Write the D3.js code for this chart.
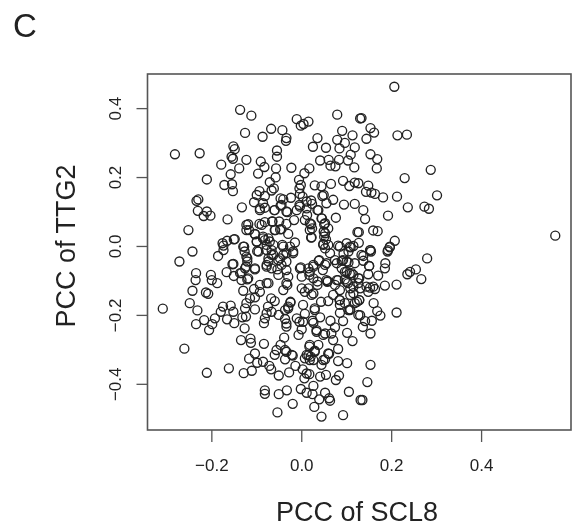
<!DOCTYPE html>
<html>
<head>
<meta charset="utf-8">
<script src="https://d3js.org/d3.v7.min.js"></script>
<style>
html, body { margin: 0; padding: 0; background: #fff; }
svg { display: block; filter: blur(0.45px); }
text { font-family: "Liberation Sans", Arial, sans-serif; fill: #222; }
</style>
</head>
<body>
<div id="chart"></div>
<script>
// tick labels and axis titles
const xTicks = [-0.2, 0, 0.2, 0.4];
const yTicks = [-0.4, -0.2, 0, 0.2, 0.4];
const xTitle = 'PCC of SCL8';
const yTitle = 'PCC of TTG2';
const panel = 'C';

// [PCC of SCL8, PCC of TTG2]
const points = [
[-0.281,0.266],[-0.226,0.269],[-0.136,0.395],[-0.111,0.378],[-0.125,0.328],[-0.086,0.317],[-0.067,0.340],[-0.042,0.336],
[-0.010,0.368],[-0.001,0.349],[0.005,0.354],[0.016,0.361],[0.080,0.381],[0.131,0.370],[0.091,0.334],[0.114,0.321],
[0.080,0.308],[0.097,0.299],[0.119,0.286],[0.085,0.283],[0.036,0.313],[0.026,0.288],[0.055,0.285],[0.110,0.265],
[0.104,0.248],[0.084,0.250],[0.061,0.250],[0.042,0.248],[0.065,0.233],[0.076,0.231],[0.118,0.228],[-0.033,0.313],
[-0.034,0.305],[-0.054,0.277],[-0.054,0.259],[-0.151,0.289],[-0.148,0.281],[-0.155,0.259],[-0.152,0.253],[-0.122,0.250],
[-0.178,0.236],[-0.090,0.245],[-0.082,0.229],[-0.138,0.225],[-0.157,0.208],[-0.096,0.210],[-0.056,0.225],[-0.057,0.199],
[-0.022,0.227],[0.018,0.225],[0.007,0.211],[-0.210,0.193],[-0.171,0.177],[-0.154,0.179],[-0.152,0.159],[-0.070,0.185],
[-0.005,0.192],[-0.001,0.177],[0.030,0.176],[0.045,0.173],[0.066,0.180],[0.093,0.189],[0.107,0.174],[0.119,0.184],
[0.127,0.182],[-0.093,0.159],[-0.099,0.148],[-0.081,0.145],[-0.061,0.167],[-0.066,0.161],[-0.004,0.167],[-0.003,0.151],
[0.003,0.143],[0.050,0.148],[0.047,0.145],[0.071,0.134],[0.056,0.124],[-0.046,0.138],[-0.040,0.135],[-0.023,0.140],
[-0.229,0.135],[-0.233,0.131],[-0.105,0.127],[0.022,0.132],[0.024,0.122],[0.095,0.120],[0.119,0.122],[-0.132,0.112],
[-0.092,0.109],[-0.081,0.111],[-0.046,0.117],[-0.060,0.104],[-0.033,0.100],[-0.010,0.104],[-0.003,0.114],[0.012,0.109],
[0.036,0.104],[-0.230,0.102],[-0.210,0.100],[-0.202,0.088],[-0.217,0.087],[-0.164,0.077],[0.077,0.082],[0.045,0.080],
[-0.016,0.075],[0.008,0.075],[-0.251,0.046],[-0.081,0.069],[-0.065,0.071],[-0.049,0.071],[-0.033,0.064],[-0.118,0.063],
[-0.093,0.064],[0.051,0.063],[0.022,0.063],[0.024,0.051],[-0.122,0.046],[-0.058,0.046],[-0.044,0.049],[-0.103,0.034],
[-0.029,0.035],[0.022,0.024],[0.053,0.037],[0.125,0.040],[-0.148,0.020],[-0.165,0.015],[-0.175,0.008],[-0.173,0.001],
[-0.129,-0.002],[-0.099,0.012],[-0.085,0.022],[-0.070,0.013],[-0.077,0.003],[-0.042,0.003],[-0.014,0.010],[0.049,0.006],
[0.082,0.001],[0.101,0.008],[0.116,0.000],[-0.242,-0.016],
[0.207,0.462],[0.134,0.371],[0.154,0.342],[0.162,0.329],[0.145,0.311],[0.214,0.321],[0.235,0.323],[0.154,0.266],
[0.169,0.252],[0.168,0.225],[0.288,0.221],[0.230,0.197],[0.149,0.175],[0.144,0.157],[0.156,0.155],[0.164,0.151],
[0.182,0.141],[0.213,0.143],[0.302,0.147],[0.138,0.104],[0.237,0.112],[0.274,0.114],[0.284,0.108],[0.142,0.078],
[0.193,0.088],[0.128,0.040],[0.160,0.045],[0.170,0.043],[0.565,0.030],[0.208,0.015],[0.128,0.009],[0.154,-0.012],
[0.197,-0.002],[0.193,-0.012],[0.108,-0.002],
[-0.271,-0.045],[-0.185,-0.029],[-0.173,-0.012],[-0.308,-0.182],[-0.234,-0.079],[-0.235,-0.099],[-0.201,-0.084],[-0.199,-0.099],
[-0.187,-0.108],[-0.242,-0.130],[-0.212,-0.135],[-0.207,-0.139],[-0.248,-0.166],[-0.231,-0.187],[-0.216,-0.215],[-0.234,-0.227],
[-0.205,-0.244],[-0.198,-0.227],[-0.192,-0.210],[-0.179,-0.191],[-0.174,-0.176],[-0.157,-0.173],[-0.165,-0.213],[-0.149,-0.224],
[-0.151,-0.191],[-0.260,-0.298],[-0.210,-0.368],[-0.161,-0.355],[-0.128,-0.369],[-0.110,-0.362],[-0.134,-0.273],[-0.113,-0.269],
[-0.112,-0.281],[-0.083,-0.284],[-0.126,-0.239],[-0.153,-0.053],[-0.166,-0.076],[-0.150,-0.087],[-0.133,-0.079],[-0.120,-0.097],
[-0.103,-0.068],[-0.129,-0.130],[-0.105,-0.125],[-0.077,-0.108],[-0.092,-0.133],[-0.103,-0.149],[-0.114,-0.152],[-0.122,-0.166],
[-0.125,-0.181],[-0.103,-0.184],[-0.123,-0.205],[-0.131,-0.207],[-0.067,-0.152],[-0.059,-0.160],[-0.074,-0.176],[-0.077,-0.195],
[-0.081,-0.210],[-0.083,-0.224],[-0.066,-0.191],[-0.050,-0.200],[-0.029,-0.181],[-0.024,-0.164],[-0.036,-0.212],[-0.033,-0.234],
[-0.010,-0.210],[0.004,-0.171],[0.008,-0.197],[0.030,-0.186],[0.044,-0.162],[0.060,-0.160],[0.004,-0.220],[0.001,-0.242],
[-0.006,-0.258],[0.027,-0.223],[0.042,-0.207],[0.065,-0.217],[0.075,-0.236],[0.034,-0.244],[0.049,-0.258],[0.067,-0.254],
[0.102,-0.252],[0.114,-0.276],[0.093,-0.218],[-0.038,-0.266],[-0.046,-0.287],[-0.055,-0.302],[-0.059,-0.316],[-0.033,-0.307],
[-0.036,-0.329],[-0.019,-0.318],[-0.103,-0.312],[-0.116,-0.327],[-0.098,-0.339],[-0.085,-0.336],[-0.071,-0.348],[-0.067,-0.358],
[-0.050,-0.376],[-0.027,-0.367],[-0.013,-0.348],[0.003,-0.358],[0.012,-0.370],[0.007,-0.384],[0.018,-0.292],[0.038,-0.287],
[0.030,-0.304],[0.012,-0.316],[0.021,-0.321],[0.027,-0.331],[0.008,-0.326],[0.045,-0.345],[0.053,-0.329],[0.062,-0.313],
[0.082,-0.299],[0.082,-0.334],[0.102,-0.340],[0.042,-0.379],[0.055,-0.374],[0.084,-0.376],[0.077,-0.389],[-0.081,-0.419],
[-0.081,-0.429],[-0.050,-0.430],[-0.032,-0.419],[-0.001,-0.415],[0.012,-0.426],[0.027,-0.406],[0.025,-0.430],[0.053,-0.426],
[0.040,-0.445],[0.062,-0.442],[0.064,-0.449],[0.106,-0.423],[-0.019,-0.458],[-0.053,-0.483],[0.029,-0.467],[0.045,-0.495],
[0.093,-0.491],[0.132,-0.447],
[-0.098,-0.015],[-0.127,-0.002],[-0.122,-0.031],[-0.120,-0.045],[-0.125,-0.065],[-0.073,-0.045],[-0.066,-0.026],[-0.051,-0.041],
[-0.033,-0.045],[-0.018,-0.016],[-0.040,-0.026],[-0.077,-0.060],[-0.053,-0.068],[-0.033,-0.070],[-0.029,-0.089],[-0.033,-0.108],
[-0.040,-0.128],[-0.001,-0.062],[0.001,-0.089],[0.019,-0.075],[0.027,-0.060],[0.039,-0.043],[0.056,-0.050],[0.079,-0.050],
[0.101,-0.045],[0.049,0.003],[0.064,-0.021],[0.086,-0.002],[0.105,-0.016],[0.119,-0.050],[0.101,-0.075],[0.116,-0.084],
[0.082,-0.099],[0.101,-0.104],[0.059,-0.102],[0.036,-0.103],[0.036,-0.113],[0.001,-0.123],[0.008,-0.133],[0.023,-0.142],
[0.086,-0.128],[0.109,-0.123],[0.127,-0.108],[0.071,-0.142],[0.086,-0.157],[0.109,-0.142],[0.086,-0.171],[0.097,-0.166],
[0.109,-0.184],[0.124,-0.162],[0.086,-0.194],[0.127,-0.200],[0.116,-0.137],
[0.280,-0.036],[0.255,-0.068],[0.242,-0.075],[0.236,-0.082],[0.267,-0.096],[0.212,-0.112],[0.187,-0.050],[0.186,-0.065],
[0.171,-0.086],[0.151,-0.058],[0.149,-0.082],[0.186,-0.115],[0.164,-0.125],[0.153,-0.121],[0.149,-0.133],[0.131,-0.123],
[0.127,-0.094],[0.138,-0.029],[0.138,-0.043],[0.155,-0.016],[0.192,-0.016],[0.197,-0.004],[0.105,-0.048],[0.161,-0.166],
[0.169,-0.189],[0.176,-0.202],[0.212,-0.193],[0.157,-0.217],[0.142,-0.218],[0.131,-0.201],[0.137,-0.235],[0.154,-0.254],
[0.129,-0.157],[0.154,-0.345],[0.147,-0.395],[0.136,-0.447],[0.108,-0.080],[0.097,-0.075],[0.093,-0.041],[0.105,-0.186],
// dense middle, second pass
[-0.150,0.019],[-0.126,-0.016],[-0.120,-0.036],[-0.123,-0.060],[-0.151,-0.052],[-0.136,-0.079],[-0.133,-0.099],[-0.118,-0.094],
[-0.103,-0.065],[-0.122,0.061],[-0.116,0.046],[-0.103,0.035],[-0.099,0.013],[-0.095,-0.016],[-0.088,0.061],[-0.064,0.071],
[-0.059,0.046],[-0.047,0.048],[-0.085,0.027],[-0.081,0.017],[-0.073,0.022],[-0.062,0.003],[-0.077,-0.012],[-0.066,-0.012],
[-0.062,-0.026],[-0.073,-0.036],[-0.077,-0.055],[-0.066,-0.065],[-0.047,-0.036],[-0.040,-0.002],[-0.025,-0.002],[-0.033,-0.021],
[-0.018,-0.021],[-0.044,-0.055],[-0.031,-0.113],[-0.051,-0.084],[-0.003,-0.065],[0.019,0.066],[0.019,0.046],[0.023,0.025],
[0.046,0.080],[0.053,0.066],[0.060,0.051],[0.051,0.027],[0.040,-0.041],[0.027,-0.055],[0.016,-0.065],[0.056,-0.099],
[0.027,-0.094],[-0.059,0.104],[-0.085,0.124],[-0.092,0.104],[-0.031,0.098],[-0.004,0.119],[0.012,0.129],[0.038,0.104],
[0.013,0.090],[-0.044,0.119],[0.018,-0.084],[-0.092,-0.113],[-0.073,-0.108],
[0.050,0.042],[0.055,0.019],[0.060,0.003],[0.110,-0.004],[0.053,-0.007],[0.094,-0.023],[0.075,-0.041],[0.090,-0.043],
[0.053,-0.055],[0.048,-0.070],[0.090,-0.065],[0.112,-0.079],[0.079,-0.099],[0.097,-0.097],[0.129,-0.094],[0.058,-0.104],
[0.075,-0.113],[0.104,-0.108],[0.116,-0.118],[0.134,-0.026],[0.153,-0.012],[0.151,-0.058],[0.160,-0.118],[0.145,-0.118],
[0.016,-0.123],[0.027,-0.138],[0.085,-0.157],[0.108,-0.186],[0.129,-0.157],[0.119,-0.166],[-0.024,-0.162],[-0.029,-0.176],
[-0.036,-0.186],[0.030,-0.181],[-0.004,-0.220],[-0.033,-0.225],[0.025,-0.217],[0.053,-0.254],[0.034,-0.249],[0.071,-0.273],
[0.019,-0.287],[0.016,-0.317],[0.030,-0.307],[0.019,-0.331],[0.060,-0.312],[0.049,-0.331],[-0.036,-0.302],[-0.021,-0.316],
[0.018,-0.372]
];

const width = 578, height = 530;
const margin = { top: 74, right: 7, bottom: 100, left: 147.5 };
const innerW = width - margin.left - margin.right;
const innerH = height - margin.top - margin.bottom;

const svg = d3.select('#chart').append('svg')
    .attr('width', width)
    .attr('height', height);

const chart = svg.append('g')
    .attr('transform', `translate(${margin.left}, ${margin.top})`);

// scales, domain taken from the plot box
const xScale = d3.scaleLinear().domain([-0.342, 0.6]).range([0, innerW]);
const yScale = d3.scaleLinear().domain([-0.534, 0.499]).range([innerH, 0]);

// x axis
const xAxis = chart.append('g')
    .attr('transform', `translate(0, ${innerH})`)
    .call(d3.axisBottom(xScale).tickValues(xTicks).tickFormat(d3.format('.1f')).tickSize(12).tickSizeOuter(0));
xAxis.select('.domain').remove();
xAxis.selectAll('line').attr('stroke', '#555').attr('stroke-width', 1.3);
xAxis.selectAll('text')
    .attr('y', 0).attr('dy', 0)
    .attr('transform', 'translate(0, 41)')
    .style('font-size', '17px').attr('fill', '#333');

// y axis, labels turned like base R
const yAxis = chart.append('g')
    .call(d3.axisLeft(yScale).tickValues(yTicks).tickFormat(d3.format('.1f')).tickSize(11).tickSizeOuter(0));
yAxis.select('.domain').remove();
yAxis.selectAll('line').attr('stroke', '#555').attr('stroke-width', 1.3);
yAxis.selectAll('text')
    .attr('x', 0).attr('dy', 0)
    .attr('text-anchor', 'middle')
    .attr('transform', 'translate(-27, 0) rotate(-90)')
    .style('font-size', '17px').attr('fill', '#333');

// plot box
chart.append('rect')
    .attr('width', innerW)
    .attr('height', innerH)
    .attr('fill', 'none')
    .attr('stroke', '#555')
    .attr('stroke-width', 1.6);

// points
chart.selectAll('.dot')
    .data(points)
    .enter().append('circle')
    .attr('class', 'dot')
    .attr('cx', d => xScale(d[0]))
    .attr('cy', d => yScale(d[1]))
    .attr('r', 4.5)
    .attr('fill', 'none')
    .attr('stroke', '#222')
    .attr('stroke-width', 1.35);

// axis titles
svg.append('text')
    .attr('x', 357)
    .attr('y', 521)
    .attr('text-anchor', 'middle')
    .style('font-size', '27px')
    .text(xTitle);

svg.append('text')
    .attr('transform', 'translate(75, 246) rotate(-90)')
    .attr('text-anchor', 'middle')
    .style('font-size', '27px')
    .text(yTitle);

svg.append('text')
    .attr('x', 13)
    .attr('y', 37)
    .style('font-size', '33px')
    .text(panel);
</script>
</body>
</html>
